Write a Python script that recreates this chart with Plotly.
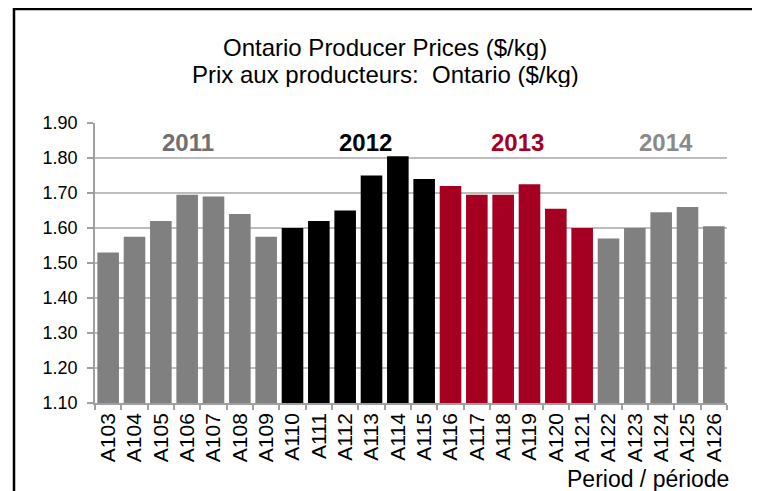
import plotly.graph_objects as go

periods = ["A103", "A104", "A105", "A106", "A107", "A108", "A109",
           "A110", "A111", "A112", "A113", "A114", "A115",
           "A116", "A117", "A118", "A119", "A120", "A121",
           "A122", "A123", "A124", "A125", "A126"]
prices = [1.53, 1.575, 1.62, 1.695, 1.69, 1.64, 1.575,
          1.60, 1.62, 1.65, 1.75, 1.805, 1.74,
          1.72, 1.695, 1.695, 1.725, 1.655, 1.60,
          1.57, 1.60, 1.645, 1.66, 1.605]
years = ["2011"] * 7 + ["2012"] * 6 + ["2013"] * 6 + ["2014"] * 5
year_labels = ["2011", "2012", "2013", "2014"]
year_label_pos = [3.05, 9.76, 15.56, 21.2]

year_colors = {"2011": "#808080", "2012": "#000000", "2013": "#A50021", "2014": "#808080"}
label_colors = {"2011": "#6f6f6f", "2012": "#000000", "2013": "#A50021", "2014": "#8a8a8a"}

FONT = "Liberation Sans, Arial, sans-serif"

fig = go.Figure()
fig.add_trace(go.Bar(
    x=periods, y=prices,
    marker=dict(color=[year_colors[y] for y in years], line=dict(width=0)),
    showlegend=False,
))

# page has an 8px body margin: figure occupies 752x483 starting at (8, 8)
W, H = 752, 483
L, R, T, B = 87, 33, 115, 88
PW, PH = W - L - R, H - T - B

fig.update_layout(
    width=W, height=H,
    margin=dict(l=L, r=R, t=T, b=B, autoexpand=False),
    paper_bgcolor="white", plot_bgcolor="white",
    bargap=0.18,
    font=dict(family=FONT, color="#000000"),
    xaxis=dict(
        type="category",
        tickangle=-90,
        tickfont=dict(size=21, family=FONT, color="#000000"),
        showline=True, linecolor="#a0a0a0", linewidth=1.5,
        ticks="outside", tickson="boundaries", ticklen=5, tickcolor="#a0a0a0", tickwidth=1.5,
        showgrid=False,
    ),
    yaxis=dict(
        range=[1.10, 1.90],
        dtick=0.1, tick0=1.10,
        tickformat=".2f",
        tickfont=dict(size=18, family=FONT, color="#000000"),
        showline=True, linecolor="#a0a0a0", linewidth=1.5,
        ticks="outside", ticklen=6, tickcolor="#a0a0a0", tickwidth=1.5,
        showgrid=True, gridcolor="#bdbdbd", gridwidth=1.8,
        zeroline=False,
        ticklabelstandoff=6,
    ),
)

def py(y_px):
    return (H - B - y_px) / PH

def px(x_px):
    return (x_px - L) / PW

annotations = [
    dict(text="Ontario Producer Prices ($/kg)",
         xref="paper", yref="paper", x=px(377), y=py(39), xanchor="center", yanchor="middle",
         height=26, valign="middle",
         showarrow=False, font=dict(size=24, family=FONT, color="#000000")),
    dict(text="Prix aux producteurs:  Ontario ($/kg)",
         xref="paper", yref="paper", x=px(377), y=py(66), xanchor="center", yanchor="middle",
         height=26, valign="middle",
         showarrow=False, font=dict(size=24, family=FONT, color="#000000")),
    dict(text="Period / période", xref="paper", yref="paper", x=px(723), y=py(471),
         xanchor="right", yanchor="middle", showarrow=False,
         font=dict(size=23, family=FONT, color="#000000")),
]
for lab, pos in zip(year_labels, year_label_pos):
    annotations.append(dict(
        text="<b>%s</b>" % lab, x=pos, y=1.844, xref="x", yref="y",
        xanchor="center", yanchor="middle", showarrow=False,
        font=dict(size=24, family=FONT, color=label_colors[lab])))
fig.update_layout(annotations=annotations)

fig.add_shape(type="rect", xref="paper", yref="paper",
              x0=px(6), x1=px(746),
              y0=py(H + 40), y1=py(1),
              line=dict(color="#000000", width=2.5), fillcolor="rgba(0,0,0,0)", layer="above")

fig.write_html("out.html")
